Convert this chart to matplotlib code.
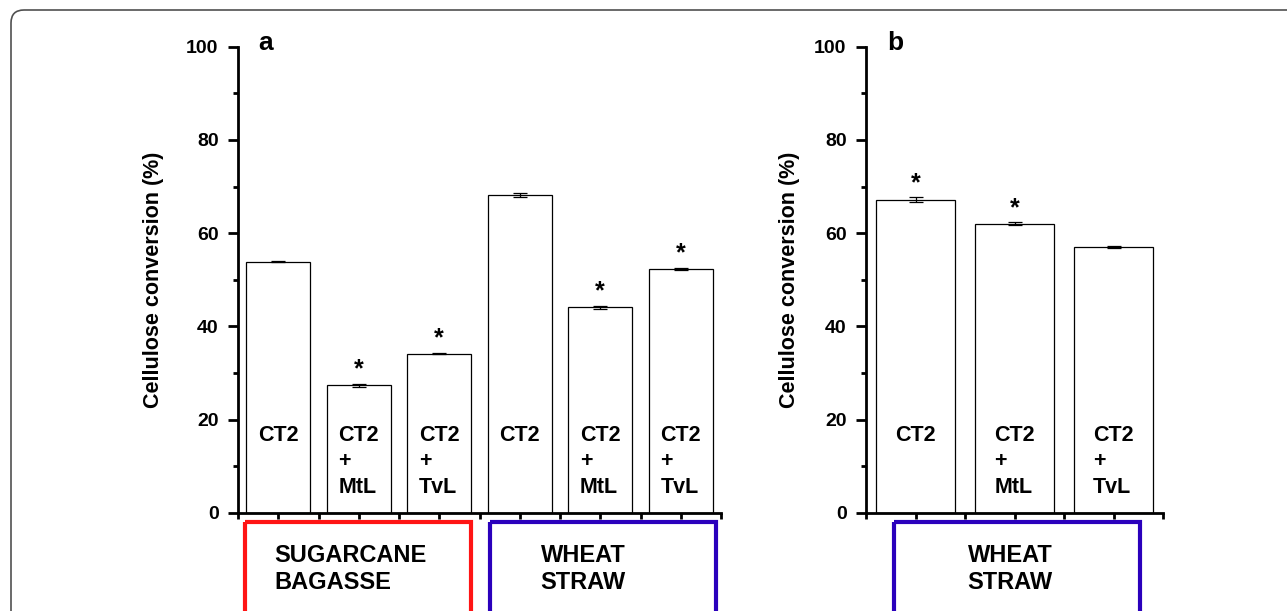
import matplotlib
matplotlib.use("Agg")
import matplotlib.pyplot as plt
from matplotlib.patches import Rectangle, FancyBboxPatch
from matplotlib.transforms import IdentityTransform

plt.rcParams['font.family'] = ['Liberation Sans', 'DejaVu Sans']
plt.rcParams['font.weight'] = 'bold'
plt.rcParams['axes.labelweight'] = 'bold'

# ---------------- data ----------------
a_labels = ["CT2", "CT2\n+\nMtL", "CT2\n+\nTvL", "CT2", "CT2\n+\nMtL", "CT2\n+\nTvL"]
a_values = [53.9, 27.3, 34.1, 68.2, 44.1, 52.3]
a_errors = [0.15, 0.3, 0.15, 0.4, 0.35, 0.3]
a_signif = [False, True, True, False, True, True]
a_groups = ["SUGARCANE\nBAGASSE", "WHEAT\nSTRAW"]

b_labels = ["CT2", "CT2\n+\nMtL", "CT2\n+\nTvL"]
b_values = [67.2, 62.0, 57.0]
b_errors = [0.45, 0.3, 0.15]
b_signif = [True, True, False]
b_groups = ["WHEAT\nSTRAW"]

yticks = [0, 20, 40, 60, 80, 100]
ylabel = "Cellulose conversion (%)"

RED = "#ff1414"
BLUE = "#2a00bc"

W, H = 1287, 611
fig = plt.figure(figsize=(W / 100, H / 100), dpi=100)

def fx(px):
    return px / W

def fy(py):
    return 1 - py / H

ax_a = fig.add_axes([fx(238), fy(512.7), fx(721 - 238), (512.7 - 46.7) / H])
ax_b = fig.add_axes([fx(866), fy(512.7), fx(1163 - 866), (512.7 - 46.7) / H])


def draw(ax, labels, values, errors, signif, letter, letter_x, ylab_x):
    n = len(values)
    xs = list(range(1, n + 1))
    ax.bar(xs, values, width=0.8, color="white", edgecolor="black", linewidth=0.9,
           zorder=2)
    ax.errorbar(xs, values, yerr=errors, fmt="none", ecolor="black",
                elinewidth=0.9, capsize=5, capthick=0.9, zorder=3)
    for x, v, e, s, lab in zip(xs, values, errors, signif, labels):
        ax.text(x, 18.8, lab, ha="center", va="top", multialignment="left",
                fontsize=15.5, fontweight="bold", linespacing=1.32, zorder=4)
        if s:
            ax.text(x, v + e + 1.6, "*", ha="center", va="baseline",
                    fontsize=18, fontweight="bold", zorder=4)
    ax.set_xlim(0.5, n + 0.5)
    ax.set_ylim(0, 100)
    ax.set_yticks(yticks)
    ax.set_yticks([10, 30, 50, 70, 90], minor=True)
    xt = [0.5 + 0.5 * i for i in range(2 * n + 1)]
    ax.set_xticks(xt)
    ax.set_xticklabels([])
    for s in ["top", "right"]:
        ax.spines[s].set_visible(False)
    for s in ["left", "bottom"]:
        ax.spines[s].set_linewidth(2.0)
    ax.tick_params(axis="y", which="major", length=7, width=2.0, direction="out",
                   labelsize=14, pad=7)
    ax.tick_params(axis="y", which="minor", length=3.5, width=2.0, direction="out")
    ax.tick_params(axis="x", which="major", length=4, width=2.0, direction="out")
    for t in ax.get_yticklabels():
        t.set_fontweight("bold")
    ax.set_ylabel(ylabel, fontsize=15.5, fontweight="bold")
    ax.yaxis.set_label_coords(ylab_x, 0.5)
    ax.text(letter_x, 1.008, letter, transform=ax.transAxes, fontsize=19,
            fontweight="bold", ha="center", va="center")


draw(ax_a, a_labels, a_values, a_errors, a_signif, "a", 0.058, -(238 - 164) / 483)
draw(ax_b, b_labels, b_values, b_errors, b_signif, "b", 0.098, -(866 - 800) / 297)


def group_box(ax, x0, x1, color, text, tx):
    tr = ax.get_xaxis_transform()
    rect = Rectangle((x0, -0.021), x1 - x0, -0.3, transform=tr, fill=False,
                     edgecolor=color, linewidth=3.0, clip_on=False, zorder=1)
    ax.add_patch(rect)
    ax.text(tx, -0.068, text, transform=tr, ha="left", va="top",
            fontsize=17, fontweight="bold", linespacing=1.2, clip_on=False)


group_box(ax_a, 0.587, 3.394, RED, a_groups[0], 0.947)
group_box(ax_a, 3.63, 6.44, BLUE, a_groups[1], 4.26)
group_box(ax_b, 0.784, 3.27, BLUE, b_groups[0], 1.525)

# figure frame (rounded top-left corner), in pixel coordinates
frame = FancyBboxPatch((11, -30), 1400, H - 10 + 30,
                       boxstyle="round,pad=0,rounding_size=13",
                       transform=IdentityTransform(), fill=False,
                       edgecolor="#505050", linewidth=1.2)
fig.patches.append(frame)

fig.savefig("out.png", dpi=100)
